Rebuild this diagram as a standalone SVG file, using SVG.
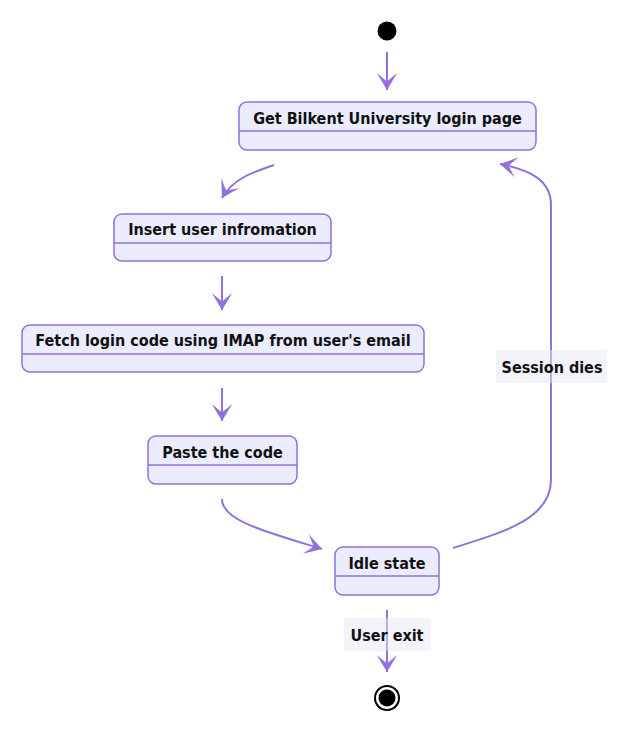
<svg xmlns="http://www.w3.org/2000/svg" width="629" height="735" viewBox="0 0 629 735">
<style>
.n rect.b{fill:#ECECFF;stroke:#9370DB;stroke-width:1.5}
.n line{stroke:#9370DB;stroke-width:1.5}
.t,.l{font-family:"DejaVu Sans Condensed","DejaVu Sans",sans-serif;font-stretch:condensed;font-size:16px;font-weight:bold;fill:#111;text-anchor:middle}
.e path{fill:none;stroke:#9370DB;stroke-width:2}
.lb{fill:#E8E8F5;opacity:0.5}
</style>
<defs>
<marker id="barb" viewBox="0 0 20 14" refX="19" refY="7" markerWidth="34" markerHeight="23.8" markerUnits="userSpaceOnUse" orient="auto">
<path d="M 19,7 L9,13 L14,7 L9,1 Z" fill="#9370DB"/>
</marker>
</defs>
<rect width="629" height="735" fill="#fff"/>
<g id="start"><circle cx="387" cy="31" r="9.5" fill="#000"/></g>
<g class="e" id="edges">
<path d="M387,52 L387,90" marker-end="url(#barb)"/>
<path d="M274,165 C250,173 232,180 222,198" marker-end="url(#barb)"/>
<path d="M222,276 L222,310" marker-end="url(#barb)"/>
<path d="M222,388 L222,421" marker-end="url(#barb)"/>
<path d="M222,499 C222,520 260,530 322,549" marker-end="url(#barb)"/>
<path d="M453,548 C500,533 551,520 551,480 L551,205 C551,180 530,170 500,164" marker-end="url(#barb)"/>
<path d="M387,610 L387,672" marker-end="url(#barb)"/>
</g>
<g id="label-session"><rect class="lb" x="496" y="350" width="111" height="33"/><text class="l" x="552" y="372.5">Session dies</text></g>
<g id="label-exit"><rect class="lb" x="344" y="618" width="87" height="33"/><text class="l" x="387" y="640.5">User exit</text></g>
<g class="n" id="s1"><rect class="b" x="239" y="102" width="297" height="48" rx="8"/><line x1="239" y1="131" x2="536" y2="131"/><text class="t" x="387.5" y="123.5">Get Bilkent University login page</text></g>
<g class="n" id="s2"><rect class="b" x="114" y="214" width="217" height="47" rx="8"/><line x1="114" y1="243" x2="331" y2="243"/><text class="t" x="222.5" y="234.5">Insert user infromation</text></g>
<g class="n" id="s3"><rect class="b" x="22" y="325" width="402" height="47" rx="8"/><line x1="22" y1="354" x2="424" y2="354"/><text class="t" x="223" y="345.5">Fetch login code using IMAP from user's email</text></g>
<g class="n" id="s4"><rect class="b" x="148" y="436" width="149" height="48" rx="8"/><line x1="148" y1="465" x2="297" y2="465"/><text class="t" x="222.5" y="457.5">Paste the code</text></g>
<g class="n" id="s5"><rect class="b" x="335" y="547" width="104" height="48" rx="8"/><line x1="335" y1="576" x2="439" y2="576"/><text class="t" x="387" y="568.5">Idle state</text></g>
<g id="end"><circle cx="387" cy="698" r="13" fill="#000"/><circle cx="387" cy="698" r="11" fill="#fff"/><circle cx="387" cy="698" r="8.5" fill="#000"/></g>
</svg>
